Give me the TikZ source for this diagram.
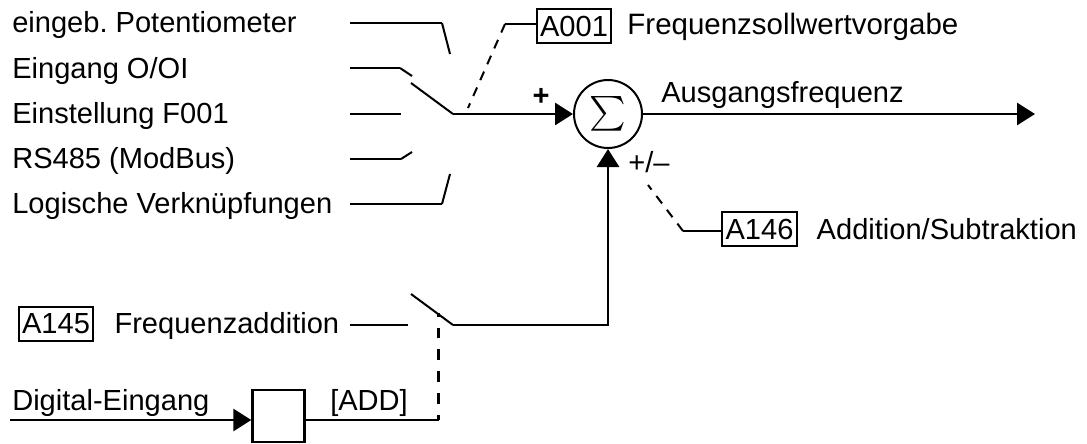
\documentclass[tikz,border=0pt]{standalone}
\usepackage{fontspec}
\setmainfont{Liberation Sans}
\usetikzlibrary{positioning, arrows.meta}

\begin{document}
\begin{tikzpicture}[x=0.75pt, y=-0.75pt, node distance=12pt,
    txt/.style={font=\fontsize{21.8}{26}\selectfont, inner sep=0pt, anchor=base west},
    param/.style={draw, line width=1.4pt, minimum width=56pt, minimum height=25pt, inner sep=0pt, font=\fontsize{21.8}{26}\selectfont},
    wire/.style={line width=2.2pt},
    blade/.style={line width=1.5pt},
    ctrl/.style={line width=1.5pt, dash pattern=on 7pt off 6pt},
    sig/.style={-{Triangle[length=13.5pt,width=16.5pt]}, line width=2.2pt}]
  \useasboundingbox (0,0) rectangle (1087,443);

  % input labels
  \node[txt] (pot) at (12,32) {eingeb.\ Potentiometer};
  \node[txt] (oi) at (12,78) {Eingang O/OI};
  \node[txt] (f001) at (12,123) {Einstellung F001};
  \node[txt] (rs) at (12,168) {RS485 (ModBus)};
  \node[txt] (logic) at (12,213) {Logische Verknüpfungen};

  % switch contacts
  \coordinate (potin) at (350,23);
  \coordinate (potbend) at (442,23);
  \coordinate (potend) at (450,54);
  \coordinate (oiin) at (350,68);
  \coordinate (oibend) at (400,68);
  \coordinate (oiend) at (412,76);
  \coordinate (f001in) at (350,114);
  \coordinate (f001end) at (401,114);
  \coordinate (rsin) at (350,159);
  \coordinate (rsbend) at (401,159);
  \coordinate (rsend) at (412,152);
  \coordinate (logicin) at (350,204);
  \coordinate (logicbend) at (442,204);
  \coordinate (logicend) at (450,174);
  \coordinate (bladeend) at (411,83);
  \coordinate (pivot) at (453,114);

  \draw[wire] (potin) -- (potbend);
  \draw[blade] (potbend) -- (potend);
  \draw[wire] (oiin) -- (oibend);
  \draw[blade] (oibend) -- (oiend);
  \draw[wire] (f001in) -- (f001end);
  \draw[wire] (rsin) -- (rsbend);
  \draw[blade] (rsbend) -- (rsend);
  \draw[wire] (logicin) -- (logicbend);
  \draw[blade] (logicbend) -- (logicend);
  \draw[blade] (bladeend) -- (pivot);

  % summing point
  \node[draw, circle, line width=1.5pt, minimum size=51pt, inner sep=0pt] (sum) at (608,114) {\scalebox{2.6}{$\sum$}};
  \node[txt, anchor=center, font=\fontsize{21.8}{26}\selectfont\bfseries] (plus) at (541,97) {+};
  \draw[sig] (pivot) -- (sum);

  % output
  \coordinate (out) at (1035,114);
  \node[txt] (ausgang) at (661,102) {Ausgangsfrequenz};
  \draw[sig] (sum) -- (out);

  % parameter A001
  \node[param] (a001) at (574,26) {A001};
  \node[txt, base right=11.2pt of a001, yshift=1pt, font=\fontsize{22.1}{26}\selectfont] (a001txt) {Frequenzsollwertvorgabe};
  \coordinate (a001bend) at (505,24);
  \coordinate (a001end) at (468,108);
  \draw[wire] (a001.west |- a001bend) -- (a001bend);
  \draw[ctrl] (a001bend) -- (a001end);

  % parameter A146
  \node[txt, anchor=center] (sign) at (649,162) {+/--};
  \node[param] (a146) at (759.5,229) {A146};
  \node[txt, base right=14pt of a146] (a146txt) {Addition/Subtraktion};
  \coordinate (a146bend) at (683,231);
  \coordinate (a146end) at (648,185);
  \draw[wire] (a146.west |- a146bend) -- (a146bend);
  \draw[ctrl] (a146bend) -- (a146end);

  % parameter A145
  \node[param] (a145) at (56,324) {A145};
  \node[txt, base right=15pt of a145] (a145txt) {Frequenzaddition};
  \coordinate (addin) at (350,325);
  \coordinate (addend) at (408,325);
  \coordinate (addblade) at (411,294);
  \coordinate (addpivot) at (453,325);
  \coordinate (addcorner) at (608,325);
  \draw[wire] (addin) -- (addend);
  \draw[blade] (addblade) -- (addpivot);
  \draw[sig] (addpivot) -- (addcorner) -- (sum);

  % digital input
  \node[txt] (digital) at (12,410) {Digital-Eingang};
  \node[draw, line width=1.8pt, minimum size=39pt, inner sep=0pt] (addbox) at (278.5,416) {};
  \node[txt] (addlabel) at (330,410) {[ADD]};
  \coordinate (digin) at (10,420);
  \coordinate (addturn) at (438.5,420);
  \coordinate (addtop) at (438.5,313);
  \draw[sig] (digin) -- (digin -| addbox.west);
  \draw[wire] (addbox.east |- addturn) -- (addturn);
  \draw[line width=2pt, dash pattern=on 8pt off 8.3pt, dash phase=4pt] (addturn) -- (addtop);
\end{tikzpicture}
\end{document}
